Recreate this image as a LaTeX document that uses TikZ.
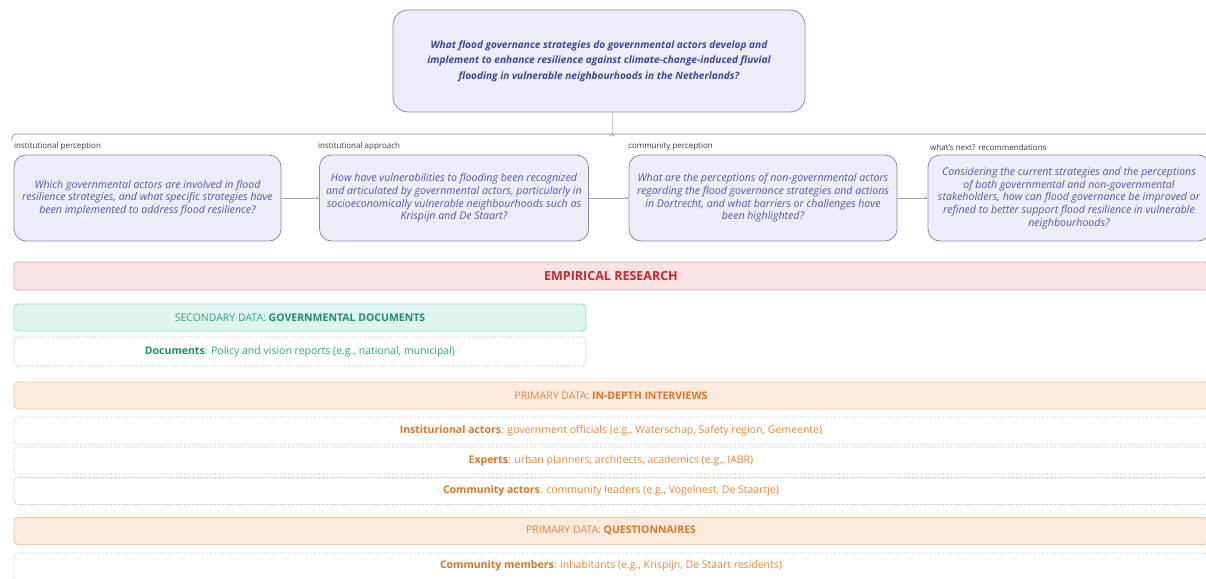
\documentclass[tikz,border=0pt]{standalone}
\usepackage{fontspec}
\setmainfont{Open Sans}
\usetikzlibrary{arrows.meta,calc}

\definecolor{qfill}{HTML}{ECEDF8}
\definecolor{qdraw}{HTML}{868AB3}
\definecolor{qtext}{HTML}{5558A8}
\definecolor{qtexttop}{HTML}{42469A}
\definecolor{labeltext}{HTML}{3A3A3A}
\definecolor{linegray}{HTML}{8C8C98}
\definecolor{redfill}{HTML}{FAE3E5}
\definecolor{reddraw}{HTML}{E2ADB0}
\definecolor{redtext}{HTML}{C8262E}
\definecolor{tealfill}{HTML}{DEF4EE}
\definecolor{tealdraw}{HTML}{A3D9CB}
\definecolor{tealtext}{HTML}{34A088}
\definecolor{tealbold}{HTML}{1F8C72}
\definecolor{tealdot}{HTML}{A0B4AF}
\definecolor{orfill}{HTML}{FDEADF}
\definecolor{ordraw}{HTML}{EFC5A8}
\definecolor{ortext}{HTML}{E3883C}
\definecolor{orbold}{HTML}{D97629}
\definecolor{ordot}{HTML}{C4B4A8}

\tikzset{
  qbox/.style={draw=qdraw, fill=qfill, line width=0.8pt, rounded corners=12pt,
    align=center, inner sep=0pt, font=\fontsize{10.6}{12.7}\selectfont\itshape, text=qtext},
  mainbox/.style={qbox, rounded corners=15pt,
    font=\fontsize{10.1}{15.5}\selectfont\bfseries\itshape, text=qtexttop},
  phase/.style={anchor=south west, inner sep=0pt, text=labeltext,
    font=\fontsize{8}{9}\selectfont},
  flow/.style={draw=linegray!80, line width=0.6pt,
    -{Stealth[length=3pt,width=3pt]}},
  bar/.style={line width=0.8pt, rounded corners=4pt, inner sep=0pt,
    font=\fontsize{10.5}{12}\selectfont},
  redbar/.style={bar, draw=reddraw, fill=redfill, text=redtext,
    font=\fontsize{12.5}{15}\selectfont\bfseries},
  tealbar/.style={bar, draw=tealdraw, fill=tealfill, text=tealtext},
  orbar/.style={bar, draw=ordraw, fill=orfill, text=ortext},
  dotbox/.style={line width=0.7pt, rounded corners=4pt, inner sep=0pt,
    dash pattern=on 1pt off 1.6pt, fill=white,
    font=\fontsize{10.5}{12}\selectfont},
  tealdots/.style={dotbox, draw=tealdot, text=tealtext},
  ordots/.style={dotbox, draw=ordot, text=ortext},
  wide/.style={minimum width=1194pt},
}

\begin{document}
\begin{tikzpicture}[x=1pt, y=-1pt]
  \fill[white] (0,0) rectangle (1206,578);
  \clip (0,0) rectangle (1206,578);

  % main research question
  \node[mainbox, minimum width=412pt, minimum height=102pt] (qmain) at (599,61)
    {What flood governance strategies do governmental actors develop and\\
     implement to enhance resilience against climate-change-induced fluvial\\
     flooding in vulnerable neighbourhoods in the Netherlands?};

  % bracket line spanning the sub-questions
  \coordinate (bl) at (12,141);
  \coordinate (br) at (1212,134);
  \coordinate (junc) at (612,134);
  \draw[linegray, line width=0.7pt, rounded corners=4pt] (bl) |- (br);
  \draw[linegray!45, line width=0.6pt] (qmain.south -| junc) -- (junc);
  \draw[linegray, line width=0.6pt] ($(junc)+(-2.2,2.4)$) -- ($(junc)+(0,-0.4)$) -- ($(junc)+(2.2,2.4)$);

  % sub-questions
  \node[qbox, minimum width=267pt, minimum height=86pt] (q1) at (147.5,198)
    {Which governmental actors are involved in flood\\
     resilience strategies, and what specific strategies have\\
     been implemented to address flood resilience?};
  \node[qbox, minimum width=269pt, minimum height=86pt] (q2) at (454,198)
    {How have vulnerabilities to flooding been recognized\\
     and articulated by governmental actors, particularly in\\
     socioeconomically vulnerable neighbourhoods such as\\
     Krispijn and De Staart?};
  \node[qbox, minimum width=268pt, minimum height=86pt] (q3) at (763,198)
    {What are the perceptions of non-governmental actors\\
     regarding the flood governance strategies and actions\\
     in Dortrecht, and what barriers or challenges have\\
     been highlighted?};
  \node[qbox, minimum width=282pt, minimum height=86pt] (q4) at (1069,198)
    {Considering the current strategies and the perceptions\\
     of both governmental and non-governmental\\
     stakeholders, how can flood governance be improved or\\
     refined to better support flood resilience in vulnerable\\
     neighbourhoods?};

  \node[phase] (p1) at (14,151) {institutional perception};
  \node[phase] (p2) at (318,151) {institutional approach};
  \node[phase] (p3) at (628,151) {community perception};
  \node[phase] (p4) at (930,151) {what's next? recommendations};

  \draw[flow] (q1) -- (q2);
  \draw[flow] (q2) -- (q3);
  \draw[flow] (q3) -- (q4);

  % empirical research
  \node[redbar, wide, minimum height=28pt] (emp) at (611,276)
    {EMPIRICAL RESEARCH};

  % secondary data
  \node[tealbar, minimum width=572pt, minimum height=27pt] (sec) at (300,317.5)
    {SECONDARY DATA: \textbf{\color{tealbold}GOVERNMENTAL DOCUMENTS}};
  \node[tealdots, minimum width=572pt, minimum height=29pt] (docs) at (300,351.5)
    {\textbf{\color{tealbold}Documents}: Policy and vision reports (e.g., national, municipal)};

  % primary data: interviews
  \node[orbar, wide, minimum height=27pt] (intv) at (611,395.5)
    {PRIMARY DATA: \textbf{\color{orbold}IN-DEPTH INTERVIEWS}};
  \node[ordots, wide, minimum height=27pt] (inst) at (611,430.5)
    {\textbf{\color{orbold}Institurional actors}: government officials (e.g., Waterschap, Safety region, Gemeente)};
  \node[ordots, wide, minimum height=27pt] (expt) at (611,460.5)
    {\textbf{\color{orbold}Experts}: urban planners, architects, academics (e.g., IABR)};
  \node[ordots, wide, minimum height=27pt] (comm) at (611,491)
    {\textbf{\color{orbold}Community actors}: community leaders (e.g., Vogelnest, De Staartje)};

  % primary data: questionnaires
  \node[orbar, wide, minimum height=27pt] (quest) at (611,531)
    {PRIMARY DATA: \textbf{\color{orbold}QUESTIONNAIRES}};
  \node[ordots, wide, minimum height=30pt] (memb) at (611,568)
    {\raisebox{6pt}{\textbf{\color{orbold}Community members}: inhabitants (e.g., Krispijn, De Staart residents)}};
\end{tikzpicture}
\end{document}
